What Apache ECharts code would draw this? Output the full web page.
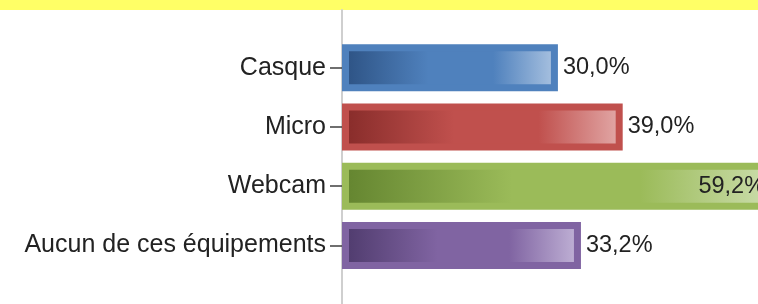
<!DOCTYPE html>
<html>
<head>
<meta charset="utf-8">
<script src="https://cdn.jsdelivr.net/npm/echarts@6/dist/echarts.min.js"></script>
<style>
  html, body { margin: 0; padding: 0; background: #fff; }
  #main { width: 758px; height: 304px; }
</style>
</head>
<body>
<div id="main"></div>
<script>
// données
var categories = ['Casque', 'Micro', 'Webcam', 'Aucun de ces équipements'];
var values = [30.0, 39.0, 59.2, 33.2];

// couleurs : bordure, foncé, clair
var borderColors = ['#4f81bd', '#c0504d', '#9bbb59', '#8064a2'];
var darkColors = ['#2c5182', '#862b29', '#63842f', '#4e3a6c'];
var lightColors = ['#adc5e2', '#e3abaa', '#cadcaa', '#c3b5d8'];

var chart = echarts.init(document.getElementById('main'));

var font = '"Liberation Sans", Arial, sans-serif';

function grad(i){
    return new echarts.graphic.LinearGradient(0, 0, 1, 0, [
        {offset: 0, color: darkColors[i]}
        ,{offset: 0.4, color: borderColors[i]}
        ,{offset: 0.7, color: borderColors[i]}
        ,{offset: 1, color: lightColors[i]}
    ]);
}

// l'axe s'arrête avant 59,2 : la barre Webcam sort du cadre
var xMax = 57.8;

var barData = values.map(function(v, i){
    var item = {
        value: v
        ,itemStyle: {color: grad(i), borderColor: borderColors[i], borderWidth: 7}
    };
    if (v > xMax) {
        item.label = {position: 'insideRight', distance: 10, offset: [7, 0]};
    }
    return item;
});

chart.setOption({
    animation: false
    ,backgroundColor: '#fff'
    ,graphic: [{
        type: 'rect'
        ,shape: {x: 0, y: 0, width: 758, height: 10}
        ,style: {fill: '#ffff66'}
    }]
    ,grid: [
        {left: 342, right: 0, top: 38, bottom: 29, containLabel: false}
        ,{left: 342, right: 0, top: 10, bottom: 0, containLabel: false}
    ]
    ,xAxis: [
        {type: 'value', min: 0, max: xMax, show: false}
        ,{type: 'value', gridIndex: 1, min: 0, max: xMax, show: false}
    ]
    ,yAxis: [{
        type: 'category'
        ,inverse: true
        ,data: categories
        ,axisLine: {show: false}
        ,axisTick: {show: true, alignWithLabel: true, length: 12, lineStyle: {color: '#404040', width: 1.5}}
        ,axisLabel: {margin: 16, fontSize: 25, color: '#222', fontFamily: font}
        ,splitLine: {show: false}
    }, {
        // trait vertical sur toute la hauteur
        type: 'value'
        ,gridIndex: 1
        ,min: 0
        ,max: 1
        ,axisLine: {show: true, onZero: false, lineStyle: {color: '#cfcfcf', width: 2}}
        ,axisTick: {show: false}
        ,axisLabel: {show: false}
        ,splitLine: {show: false}
    }]
    ,series: [{
        type: 'bar'
        ,data: barData
        ,barWidth: 47
        ,clip: false
        ,label: {
            show: true
            ,position: 'right'
            ,distance: 5
            ,fontSize: 23.5
            ,color: '#222'
            ,fontFamily: font
            ,formatter: function(p){ return p.value.toFixed(1).replace('.', ',') + '%'; }
        }
    }]
});
</script>
</body>
</html>
